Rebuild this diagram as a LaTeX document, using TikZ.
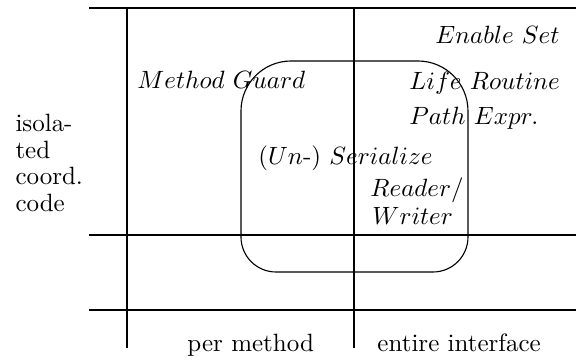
\documentclass[tikz,border=0pt]{standalone}

\tikzset{
  axis/.style={line width=0.9pt},
  region/.style={line width=0.45pt},
  mech/.style={inner sep=0pt, anchor=base west},
  cat/.style={inner sep=0pt, anchor=base west},
}

\begin{document}
\begin{tikzpicture}[x=0.4pt, y=-0.4pt]
\useasboundingbox (0,0) rectangle (576,360);
% grid of the two axes
\draw[axis] (89,8) -- (576,8);
\draw[axis] (89,235) -- (576,235);
\draw[axis] (89,310) -- (576,310);
\draw[axis] (127,8) -- (127,348);
\draw[axis] (354,8) -- (354,348);
% region spanning both columns
\draw[region] (241,160) [rounded corners=20pt] -- (241,61) -- (468,61) -- (468,160)
  [rounded corners=14pt] -- (468,272) -- (241,272) -- (241,160);
% mechanisms
\node[mech, anchor=base east] (enable) at (560,44) {$Enable\ Set$};
\node[mech] (guard) at (137,89) {$Method\ Guard$};
\node[mech] (life) at (409,90) {$Life\ Routine$};
\node[mech] (path) at (409,124) {$Path\ Expr.$};
\node[mech] (serial) at (258,165) {$(Un\mbox{-})\ Serialize$};
\node[mech] (reader) at (370,197) {$Reader/$};
\node[mech] (writer) at (372,225) {$Writer$};
% axis labels
\node[cat, anchor=north west, align=left, font=\fontsize{10}{10.6}\selectfont] (isolated) at (15,114) {isola-\\ted\\coord.\\code};
\node[cat] (permethod) at (187,352) {per method};
\node[cat] (entire) at (377,352) {entire interface};
\end{tikzpicture}
\end{document}
